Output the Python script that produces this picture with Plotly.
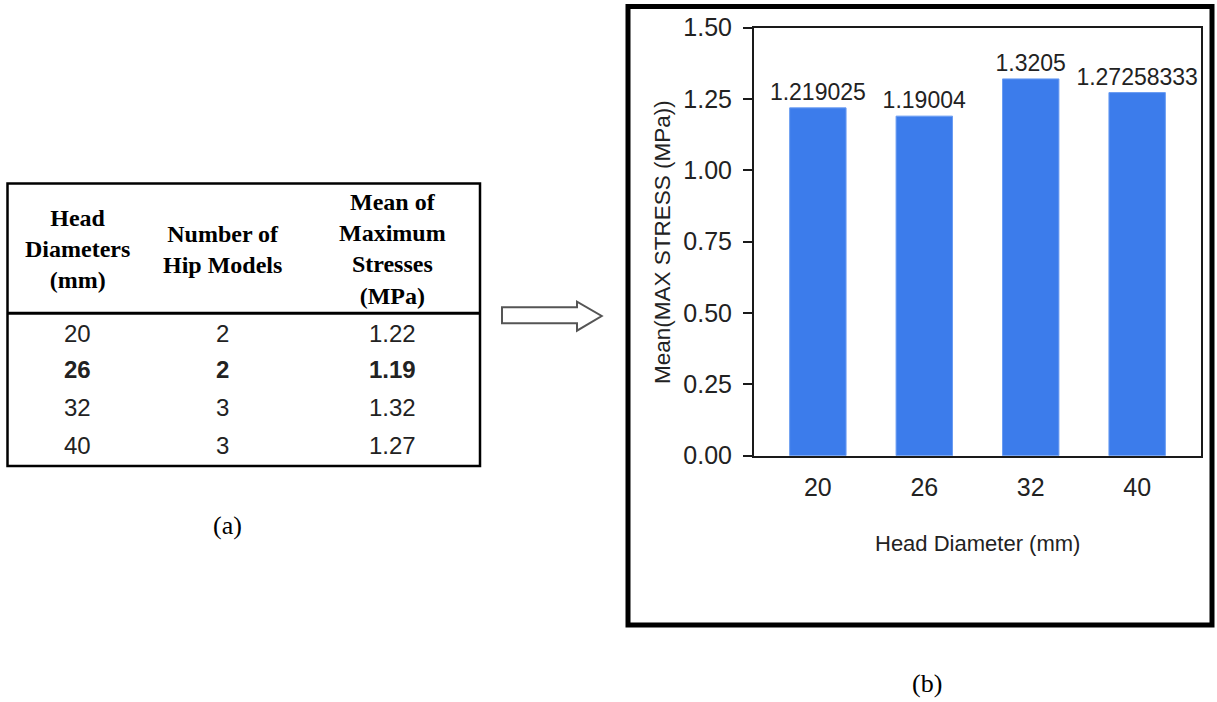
import plotly.graph_objects as go

# ---- data ----
head_diameters = ["20", "26", "32", "40"]
hip_models = [2, 2, 3, 3]
mean_max_stress = [1.219025, 1.19004, 1.3205, 1.27258333]

table_headers = [
    "Head<br>Diameters<br>(mm)",
    "Number of<br>Hip Models",
    "Mean of<br>Maximum<br>Stresses<br>(MPa)",
]
y_tick_vals = [0, 0.25, 0.5, 0.75, 1.0, 1.25, 1.5]
y_tick_text = ["0.00", "0.25", "0.50", "0.75", "1.00", "1.25", "1.50"]

# ---- page geometry (pixels) ----
W, H = 1217, 702


def px(x):
    return x / W


def py(y):
    return 1 - y / H


SANS = "Arial, Liberation Sans, sans-serif"
SERIF = "Times New Roman, Liberation Serif, serif"
BAR_BLUE = "#3c7ceb"
INK = "#1a1a1a"

fig = go.Figure()

# ---- (b) bar chart ----
fig.add_trace(go.Bar(
    x=head_diameters,
    y=mean_max_stress,
    text=[str(v) for v in mean_max_stress],
    textposition="outside",
    textfont=dict(family=SANS, size=23, color="#222222"),
    constraintext="none",
    cliponaxis=False,
    marker=dict(color=BAR_BLUE, line=dict(width=1, color="#6a9cf2")),
    hoverinfo="x+y",
))

fig.update_layout(
    width=W, height=H,
    autosize=False,
    margin=dict(l=0, r=0, t=0, b=0, pad=0, autoexpand=False),
    paper_bgcolor="white",
    plot_bgcolor="white",
    showlegend=False,
    bargap=0.47,
    xaxis=dict(
        domain=[px(754), px(1201)],
        type="category",
        range=[-0.6, 3.6],
        automargin=False,
        showline=True, mirror=True, linecolor=INK, linewidth=2,
        showgrid=False, zeroline=False,
        ticks="",
        ticklabelstandoff=8,
        tickfont=dict(family=SANS, size=25, color="#222222"),
    ),
    yaxis=dict(
        domain=[py(455.7), py(27.7)],
        range=[0, 1.5],
        automargin=False,
        tickvals=y_tick_vals,
        ticktext=y_tick_text,
        showline=True, mirror=True, linecolor=INK, linewidth=2,
        showgrid=False, zeroline=False,
        ticks="outside", ticklen=9, tickwidth=2, tickcolor=INK,
        ticklabelstandoff=6,
        tickfont=dict(family=SANS, size=25, color="#222222"),
    ),
)

annotations = []
shapes = []

# axis titles
annotations.append(dict(
    text="Head Diameter (mm)", x=px(977), y=py(543.5),
    xref="paper", yref="paper", showarrow=False,
    xanchor="center", yanchor="middle",
    font=dict(family=SANS, size=22, color="#222222"),
))
annotations.append(dict(
    text="Mean(MAX STRESS (MPa))", x=px(663), y=py(242),
    xref="paper", yref="paper", showarrow=False, textangle=-90,
    xanchor="center", yanchor="middle",
    font=dict(family=SANS, size=22.5, color="#222222"),
))

# thick frame around panel (b)
shapes.append(dict(
    type="rect", xref="paper", yref="paper",
    x0=px(628), x1=px(1212), y0=py(625), y1=py(6.5),
    line=dict(color="black", width=5), fillcolor="rgba(0,0,0,0)",
))

# ---- (a) summary table ----
col_x = [77.5, 223, 392]
shapes.append(dict(
    type="rect", xref="paper", yref="paper",
    x0=px(7.5), x1=px(480), y0=py(466), y1=py(183.5),
    line=dict(color="black", width=2.5), fillcolor="rgba(0,0,0,0)",
))
shapes.append(dict(
    type="line", xref="paper", yref="paper",
    x0=px(7.5), x1=px(480), y0=py(313.3), y1=py(313.3),
    line=dict(color="black", width=3),
))

for cx, head in zip(col_x, table_headers):
    annotations.append(dict(
        text="<b>" + head + "</b>", x=px(cx), y=py(249),
        xref="paper", yref="paper", showarrow=False,
        xanchor="center", yanchor="middle", align="center",
        font=dict(family=SERIF, size=24, color="black"),
    ))

row_y = [333.3, 369.3, 407.7, 445.7]
for i, (d, n, m) in enumerate(zip(head_diameters, hip_models, mean_max_stress)):
    cells = [d, str(n), f"{m:.2f}"]
    for cx, cell in zip(col_x, cells):
        txt = f"<b>{cell}</b>" if i == 1 else cell
        annotations.append(dict(
            text=txt, x=px(cx), y=py(row_y[i]),
            xref="paper", yref="paper", showarrow=False,
            xanchor="center", yanchor="middle",
            font=dict(family=SANS, size=24, color="#222222"),
        ))

# outline arrow pointing from the table to the chart
arrow_pts = [(502, 307.3), (577, 307.3), (577, 301.7), (601.7, 316),
             (577, 330.7), (577, 323.3), (502, 323.3)]
path = "M " + " L ".join(f"{px(x):.5f},{py(y):.5f}" for x, y in arrow_pts) + " Z"
shapes.append(dict(
    type="path", xref="paper", yref="paper", path=path,
    line=dict(color="#555555", width=2), fillcolor="white",
))

# panel captions
annotations.append(dict(
    text="(a)", x=px(227), y=py(525), xref="paper", yref="paper",
    showarrow=False, xanchor="center", yanchor="middle",
    font=dict(family=SERIF, size=26, color="black"),
))
annotations.append(dict(
    text="(b)", x=px(927), y=py(683), xref="paper", yref="paper",
    showarrow=False, xanchor="center", yanchor="middle",
    font=dict(family=SERIF, size=26, color="black"),
))

fig.update_layout(annotations=annotations, shapes=shapes)

fig.write_html("out.html")
